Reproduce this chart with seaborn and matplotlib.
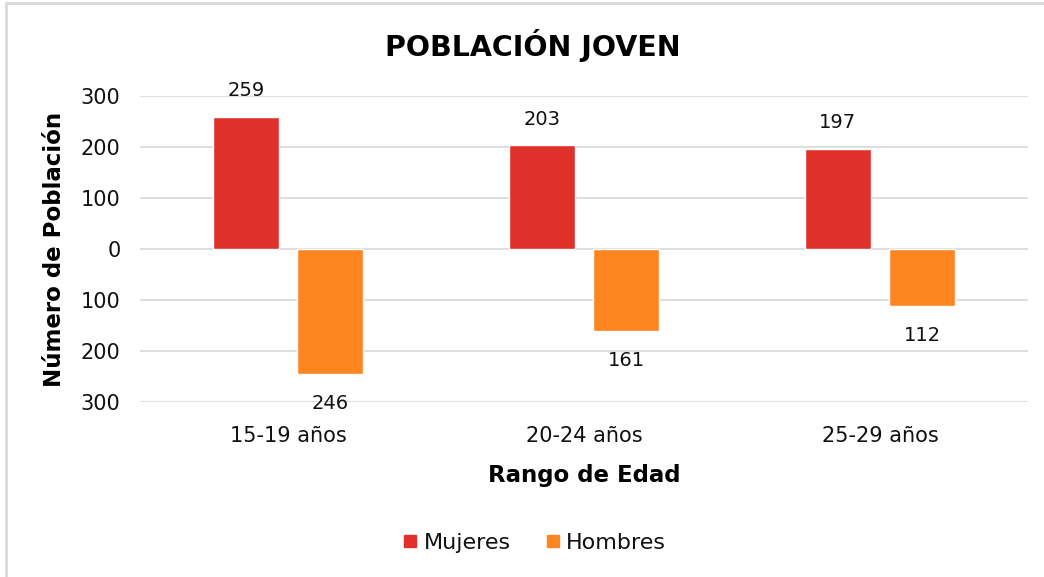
import matplotlib
matplotlib.use("Agg")
import matplotlib.pyplot as plt
import pandas as pd
import seaborn as sns
from matplotlib.ticker import FuncFormatter
from matplotlib.lines import Line2D

# Data
rangos = ["15-19 años", "20-24 años", "25-29 años"]
mujeres = [259, 203, 197]
hombres = [246, 161, 112]
yticks = [-300, -200, -100, 0, 100, 200, 300]

df = pd.DataFrame({
    "rango": rangos * 2,
    "sexo": ["Mujeres"] * 3 + ["Hombres"] * 3,
    "valor": mujeres + [-v for v in hombres],
})

sns.set_style("white")
plt.rcParams["font.family"] = ["DejaVu Sans"]

fig = plt.figure(figsize=(10.44, 5.77), dpi=100)
ax = fig.add_axes([140 / 1044, 1 - 402 / 577, 888 / 1044, 306 / 577])

palette = {"Mujeres": "#E0302A", "Hombres": "#FF8521"}
sns.barplot(data=df, x="rango", y="valor", hue="sexo", palette=palette,
            width=0.57, gap=0.215, saturation=1, ax=ax, legend=False)

ax.set_ylim(-300, 300)
ax.set_yticks(yticks)
ax.yaxis.set_major_formatter(FuncFormatter(lambda v, p: f"{abs(int(v))}"))
ax.yaxis.grid(True, color="#D9D9D9", linewidth=1.2)
ax.set_axisbelow(True)
for s in ax.spines.values():
    s.set_visible(False)
ax.tick_params(axis="y", length=0, labelsize=15, colors="#111111", pad=14)
ax.tick_params(axis="x", length=0, labelsize=15, colors="#111111", pad=17)

# data labels
for cont in ax.containers:
    vals = [abs(int(b.get_height())) for b in cont]
    neg = cont.datavalues[0] < 0
    ax.bar_label(cont, labels=[str(v) for v in vals], padding=14 if neg else 12,
                 fontsize=14, color="#111111")

ax.set_xlabel("Rango de Edad", fontsize=16.5, fontweight="bold", labelpad=13,
              color="black")
ax.set_ylabel("Número de Población", fontsize=16.5, fontweight="bold",
              labelpad=11, color="black")
fig.text(533 / 1044, 1 - 45 / 577, "POBLACIÓN JOVEN", ha="center", va="center",
         fontsize=20.5, fontweight="bold", color="black")

handles = [Line2D([], [], marker="s", linestyle="", markersize=9,
                  color=palette[k]) for k in ["Mujeres", "Hombres"]]
fig.legend(handles, ["Mujeres", "Hombres"], loc="center",
           bbox_to_anchor=(527 / 1044, 1 - 543 / 577), ncol=2, frameon=False,
           fontsize=16, handletextpad=-0.4, columnspacing=0.9,
           labelcolor="#111111")

# chart frame
fig.add_artist(Line2D([5.5 / 1044, 5.5 / 1044], [0, 1 - 2.5 / 577],
                      color="#D9D9D9", linewidth=2, transform=fig.transFigure))
fig.add_artist(Line2D([5.5 / 1044, 1], [1 - 2.5 / 577, 1 - 2.5 / 577],
                      color="#D9D9D9", linewidth=2, transform=fig.transFigure))

fig.savefig("out.png", dpi=100)
